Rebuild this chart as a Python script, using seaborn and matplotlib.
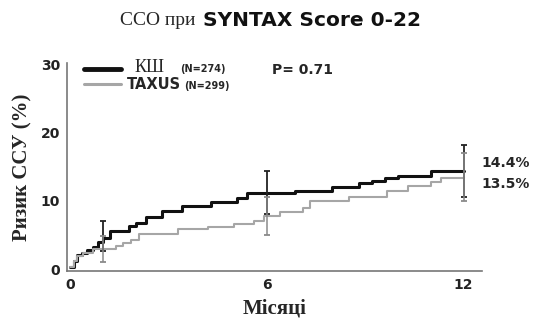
import numpy as np
import pandas as pd
import matplotlib
matplotlib.use("Agg")
import matplotlib.pyplot as plt
import seaborn as sns
from matplotlib.lines import Line2D

sns.set_style('white')

# дані
months_ksh = [0, 0.1, 0.2, 0.35, 0.5, 0.7, 0.85, 1.0, 1.2, 1.8, 2.0, 2.3, 2.8, 3.4,
              4.3, 5.1, 5.4, 6.85, 8.0, 8.8, 9.2, 9.6, 10.0, 11.0, 12.0]
risk_ksh = [0.3, 1.2, 2.0, 2.4, 2.8, 3.2, 4.0, 4.6, 5.6, 6.3, 6.8, 7.6, 8.5, 9.3,
            9.8, 10.4, 11.1, 11.5, 12.0, 12.6, 12.9, 13.3, 13.6, 14.3, 14.4]
months_taxus = [0, 0.1, 0.2, 0.4, 0.7, 1.4, 1.6, 1.85, 2.1, 3.3, 4.2, 5.0, 5.6, 5.9,
                6.4, 7.1, 7.3, 8.5, 9.65, 10.3, 11.0, 11.3, 12.0]
risk_taxus = [0.3, 1.2, 1.9, 2.3, 2.9, 3.4, 3.8, 4.3, 5.1, 5.8, 6.2, 6.6, 7.0, 7.7,
              8.3, 9.0, 9.9, 10.6, 11.4, 12.1, 12.7, 13.4, 13.5]

err_months = [1, 6, 12]
ksh_err_lo = [2.6, 8.0, 10.6]
ksh_err_hi = [7.0, 14.3, 18.2]
taxus_err_lo = [1.0, 5.0, 9.9]
taxus_err_hi = [4.8, 10.6, 17.0]

groups = ['КШ', 'TAXUS']
n_labels = ['(N=274)', '(N=299)']
end_labels = ['14.4%', '13.5%']
p_text = 'P= 0.71'

df = pd.concat([
    pd.DataFrame({'month': months_ksh, 'risk': risk_ksh, 'group': groups[0]}),
    pd.DataFrame({'month': months_taxus, 'risk': risk_taxus, 'group': groups[1]}),
])

colors = {'КШ': '#111111', 'TAXUS': '#a6a6a6'}
widths = {'КШ': 2.2, 'TAXUS': 1.5}

fig = plt.figure(figsize=(5.34, 3.33), dpi=100)
ax = fig.add_axes([0.1255, 0.186, 0.777, 0.625])

for g in groups:
    sub = df[df['group'] == g]
    sns.lineplot(data=sub, x='month', y='risk', ax=ax, color=colors[g],
                 lw=widths[g], drawstyle='steps-post', legend=False)

# довірчі інтервали
for lo, hi, col, lw in [(ksh_err_lo, ksh_err_hi, '#222222', 1.3),
                        (taxus_err_lo, taxus_err_hi, '#8a8a8a', 1.1)]:
    ax.vlines(err_months, lo, hi, color=col, lw=lw)
    ax.plot(err_months, lo, ls='none', marker='_', ms=4, color=col, mew=1.3)
    ax.plot(err_months, hi, ls='none', marker='_', ms=4, color=col, mew=1.3)

ax.set_xlim(-0.1, 12.56)
ax.set_ylim(-0.3, 30.2)
ax.set_xticks([0, 6, 12])
ax.set_yticks([0, 10, 20, 30])
ax.set_yticks([15], minor=True)
for s in ['top', 'right']:
    ax.spines[s].set_visible(False)
for s in ['left', 'bottom']:
    ax.spines[s].set_color('#777777')
    ax.spines[s].set_linewidth(1.2)
ax.tick_params(axis='both', which='both', direction='out', length=3, width=1,
               color='#777777', labelsize=10, pad=2)
for lab in ax.get_xticklabels() + ax.get_yticklabels():
    lab.set_fontweight('bold')
    lab.set_color('#222222')

ax.set_xlabel('Місяці', family='Liberation Serif', fontweight='bold',
              fontsize=15, labelpad=5)
ax.set_ylabel('Ризик ССУ (%)', family='Liberation Serif', fontweight='bold',
              fontsize=15, labelpad=6)

# заголовок
fig.text(0.365, 0.938, 'ССО при', family='Liberation Serif', fontsize=14,
         ha='right', va='center')
fig.text(0.38, 0.938, 'SYNTAX Score 0-22', fontweight='bold', fontsize=14.5,
         ha='left', va='center', color='#111111')

# легенда
tr = ax.transAxes
ax.add_line(Line2D([0.042, 0.13], [0.972, 0.972], transform=tr, color=colors['КШ'], lw=3.5))
ax.add_line(Line2D([0.042, 0.13], [0.898, 0.898], transform=tr, color=colors['TAXUS'], lw=2.2))
ax.text(0.163, 0.977, groups[0], transform=tr, family='Liberation Serif',
        fontsize=13, va='center')
ax.text(0.272, 0.972, n_labels[0], transform=tr, fontweight='bold', fontsize=7,
        va='center')
ax.text(0.145, 0.895, groups[1], transform=tr, fontweight='bold', fontsize=10.5,
        va='center')
ax.text(0.283, 0.89, n_labels[1], transform=tr, fontweight='bold', fontsize=7,
        va='center')
ax.text(0.495, 0.965, p_text, transform=tr, fontweight='bold', fontsize=10,
        va='center')

# підписи кінцевих значень
ax.text(1.0, 0.52, end_labels[0], transform=tr, fontweight='bold', fontsize=10,
        va='center', ha='left')
ax.text(1.0, 0.42, end_labels[1], transform=tr, fontweight='bold', fontsize=10,
        va='center', ha='left')

fig.savefig('out.png', dpi=100)
